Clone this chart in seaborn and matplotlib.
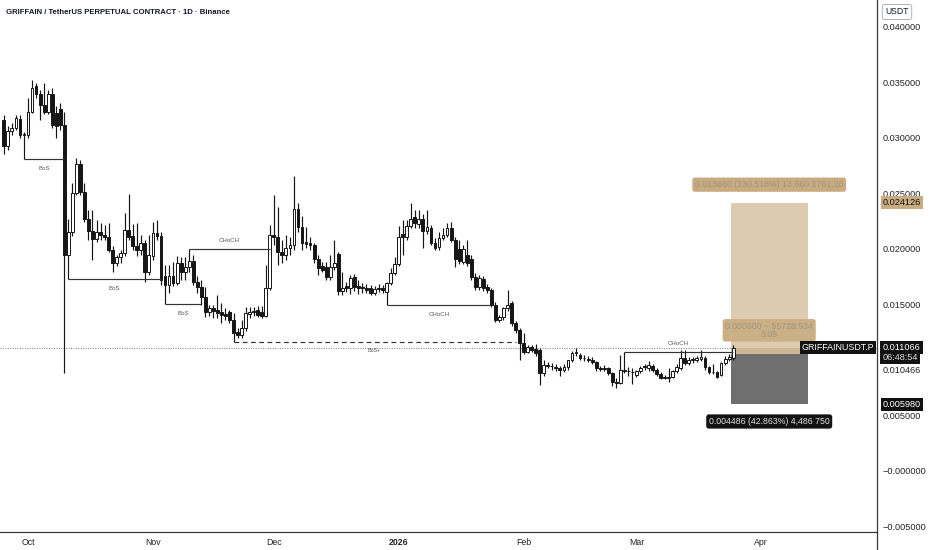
import numpy as np
import pandas as pd
import seaborn as sns
import matplotlib.pyplot as plt
from matplotlib.lines import Line2D
from matplotlib.patches import Rectangle
from matplotlib.transforms import blended_transform_factory

# GRIFFAINUSDT.P daily candles, values in thousandths of USDT
start_date = "2025-09-25"
opens = [31.6, 29.2, 30.6, 30.9, 31.7, 30.2, 30.2, 32.3, 34.6, 33.9,
         32.9, 32.3, 33.9, 32.2, 32.6, 31.1, 19.4, 21.5, 25.0, 27.6,
         25.1, 22.7, 21.6, 20.9, 21.5, 21.2, 21.0, 19.9, 18.7, 19.2,
         19.6, 21.7, 21.1, 20.2, 19.9, 20.5, 17.9, 19.3, 21.4, 21.1,
         17.5, 16.7, 17.5, 16.9, 18.7, 17.9, 18.3, 18.9, 17.0, 16.5,
         15.6, 14.3, 14.6, 14.5, 14.3, 14.1, 14.3, 13.6, 12.5, 12.2,
         12.8, 14.1, 14.3, 14.5, 14.3, 13.9, 16.4, 21.2, 21.0, 19.7,
         19.4, 20.05, 20.3, 23.6, 21.9, 20.6, 20.5, 20.3, 19.05, 18.4,
         18.3, 17.4, 18.3, 19.5, 16.2, 16.6, 16.4, 17.4, 16.6, 16.5,
         16.4, 16.4, 16.0, 16.35, 16.45, 16.1, 16.9, 17.8, 18.6, 21.3,
         21.0, 22.0, 22.8, 22.2, 22.7, 21.6, 21.85, 20.5, 20.1, 20.95,
         21.2, 21.85, 20.8, 19.95, 18.8, 19.4, 19.1, 17.4, 16.5, 17.25,
         16.5, 16.3, 14.9, 13.6, 13.8, 14.6, 15.1, 13.3, 12.7, 11.5,
         10.7, 11.1, 10.95, 10.9, 8.8, 9.5, 9.4, 9.35, 9.2, 9.05,
         9.3, 9.95, 10.55, 10.4, 10.15, 10.05, 10.0, 9.75, 9.2, 9.15,
         9.2, 8.8, 8.0, 7.9, 9.0, 9.0, 8.9, 8.6, 8.95, 9.3,
         9.2, 9.4, 9.05, 8.7, 8.4, 8.35, 8.45, 8.95, 9.2, 10.15,
         9.7, 9.95, 9.95, 10.05, 10.15, 9.3, 8.9, 8.9, 8.6, 9.65,
         10.05, 10.1]
highs = [32.0, 31.0, 31.3, 32.0, 32.0, 30.5, 33.6, 35.2, 34.9, 34.3,
         34.9, 34.3, 34.5, 32.8, 33.1, 32.3, 22.7, 25.9, 28.2, 28.0,
         25.9, 23.5, 23.5, 22.6, 22.3, 22.1, 22.3, 20.2, 19.4, 19.9,
         23.2, 24.9, 22.2, 22.3, 21.2, 20.8, 21.2, 22.4, 22.6, 21.5,
         18.5, 18.5, 18.8, 19.3, 19.2, 19.2, 19.96, 19.4, 17.5, 17.2,
         16.5, 14.9, 14.9, 15.8, 15.1, 14.6, 14.5, 14.2, 12.8, 13.6,
         14.7, 14.7, 14.7, 14.8, 14.8, 18.5, 22.1, 24.8, 23.7, 20.8,
         21.2, 21.0, 26.5, 24.1, 22.9, 21.9, 21.0, 20.5, 19.4, 18.8,
         18.8, 19.4, 20.8, 19.7, 17.9, 17.0, 17.6, 17.7, 17.2, 16.9,
         16.8, 16.7, 16.6, 16.8, 16.7, 17.0, 18.2, 19.2, 22.0, 22.6,
         22.6, 24.1, 23.5, 23.5, 23.1, 23.5, 22.1, 20.95, 21.5, 21.85,
         22.3, 22.4, 21.0, 20.8, 20.3, 20.8, 19.4, 17.8, 17.6, 17.5,
         16.8, 16.4, 15.2, 14.0, 14.7, 16.3, 15.3, 13.5, 12.8, 12.4,
         11.3, 11.3, 11.4, 11.0, 9.95, 9.8, 9.7, 9.6, 9.4, 9.6,
         9.9, 10.8, 11.0, 10.6, 10.4, 10.3, 10.2, 9.9, 9.4, 9.5,
         9.3, 8.9, 8.3, 10.4, 10.68, 9.3, 9.2, 9.1, 9.4, 9.6,
         9.9, 9.6, 9.2, 8.9, 8.6, 9.2, 9.1, 9.6, 10.9, 10.9,
         10.2, 10.2, 10.3, 10.86, 10.3, 9.4, 9.6, 9.0, 9.8, 10.3,
         10.5, 11.3]
lows = [28.5, 28.9, 30.2, 30.7, 30.0, 28.06, 30.0, 32.2, 33.6, 31.6,
        32.1, 32.1, 30.9, 30.0, 30.7, 8.8, 17.25, 21.1, 24.8, 24.8,
        22.4, 20.8, 19.0, 20.6, 20.8, 20.8, 19.7, 17.9, 18.4, 18.7,
        19.3, 20.8, 19.9, 19.3, 19.4, 17.0, 17.6, 19.0, 20.8, 16.7,
        15.0, 16.0, 16.6, 16.7, 17.2, 17.2, 17.9, 16.7, 16.0, 14.9,
        13.8, 13.9, 13.7, 13.7, 13.3, 13.6, 13.3, 11.6, 11.9, 11.9,
        12.6, 13.7, 13.9, 13.8, 13.7, 13.8, 16.3, 20.3, 18.5, 18.7,
        18.96, 19.4, 19.9, 21.5, 19.9, 20.05, 19.9, 18.7, 17.6, 17.9,
        17.2, 17.2, 18.1, 15.8, 15.8, 16.1, 15.9, 16.2, 15.9, 16.0,
        16.0, 15.8, 15.8, 16.1, 16.0, 14.9, 16.7, 17.6, 18.4, 19.4,
        20.8, 21.85, 21.85, 21.85, 20.05, 21.3, 20.3, 19.9, 19.9, 20.8,
        21.0, 20.6, 18.3, 18.6, 18.6, 18.4, 17.2, 16.3, 16.3, 16.2,
        16.0, 14.7, 13.4, 13.4, 13.6, 14.4, 13.0, 12.4, 9.95, 10.5,
        10.6, 10.7, 10.3, 7.7, 8.5, 9.2, 9.1, 9.0, 8.5, 8.9,
        9.1, 9.8, 10.3, 10.0, 9.9, 9.8, 9.6, 9.0, 9.0, 9.0,
        8.6, 7.6, 7.4, 7.8, 8.8, 8.5, 7.8, 8.4, 8.8, 9.1,
        9.0, 8.9, 8.5, 8.2, 8.2, 7.97, 8.3, 8.8, 9.1, 9.5,
        9.5, 9.7, 9.8, 9.9, 9.1, 8.7, 8.7, 8.3, 8.5, 9.5,
        9.9, 10.0]
closes = [29.2, 30.6, 30.9, 31.8, 30.2, 30.3, 32.3, 34.5, 33.9, 32.9,
          32.3, 33.9, 31.1, 31.0, 31.1, 19.4, 21.5, 25.0, 27.6, 25.1,
          22.7, 21.6, 20.9, 21.5, 21.2, 21.0, 19.9, 18.7, 19.2, 19.6,
          21.7, 21.0, 20.2, 19.9, 20.5, 17.9, 19.4, 21.4, 21.1, 17.2,
          16.7, 17.5, 16.9, 18.7, 17.9, 18.3, 18.9, 17.0, 16.5, 15.6,
          14.3, 14.6, 14.4, 14.2, 14.0, 13.9, 13.6, 12.4, 12.2, 12.8,
          14.2, 14.3, 14.4, 14.0, 13.9, 16.4, 21.2, 21.0, 19.7, 19.4,
          20.05, 20.3, 23.6, 21.9, 20.5, 20.4, 20.3, 19.05, 18.2, 18.1,
          17.4, 18.3, 18.7, 16.2, 16.4, 16.4, 17.3, 16.5, 16.4, 16.4,
          16.3, 16.0, 16.35, 16.45, 16.3, 16.9, 17.8, 18.6, 21.0, 21.0,
          22.0, 22.7, 22.3, 22.7, 21.6, 21.9, 20.5, 20.05, 20.95, 21.2,
          21.85, 20.8, 19.1, 18.9, 19.95, 18.7, 17.4, 16.5, 17.3, 16.4,
          16.3, 14.9, 13.6, 13.8, 14.6, 14.9, 13.3, 12.7, 11.5, 10.7,
          11.1, 10.9, 10.6, 8.8, 9.5, 9.4, 9.4, 9.25, 9.05, 9.3,
          9.95, 10.6, 10.65, 10.15, 10.1, 10.0, 9.75, 9.2, 9.15, 9.2,
          8.8, 8.0, 7.9, 9.05, 9.1, 8.95, 8.85, 8.95, 9.2, 9.4,
          9.5, 9.05, 8.7, 8.35, 8.35, 8.4, 8.95, 9.3, 10.15, 9.7,
          9.95, 9.97, 10.15, 10.25, 9.3, 8.9, 8.85, 8.45, 9.65, 10.05,
          10.25, 11.066]

# market structure marks: pivot candle -> breaking candle
struct_names = ["BoS", "BoS", "BoS", "CHoCH", "CHoCH", "CHoCH"]
struct_pivot = [5, 16, 40, 46, 95, 154]
struct_break = [15, 39, 49, 66, 121, 181]
struct_side = ["low", "low", "low", "high", "low", "high"]
dash_pivot, dash_end = 57, 127

# long position tool
entry_price = 0.010466
target_price = 0.024126
stop_price = 0.005980
tool_start, tool_end = 174.4, 193.5
profit_text = "0.013660 (130.518%) 13,660 1761.26"
open_text = "0.000600 ~ 55728.934\n3.05"
loss_text = "0.004486 (42.863%) 4,486 750"
countdown = "06:48:54"

month_starts = ["2025-10-01", "2025-11-01", "2025-12-01", "2026-01-01",
                "2026-02-01", "2026-03-01", "2026-04-01"]
month_labels = ["Oct", "Nov", "Dec", "2026", "Feb", "Mar", "Apr"]
price_ticks = [-0.005, 0.0, 0.005, 0.015, 0.020, 0.025, 0.030, 0.035, 0.040]

sns.set_theme(style="white")
plt.rcParams["font.family"] = ["Liberation Sans", "DejaVu Sans"]

df = pd.DataFrame({"open": opens, "high": highs, "low": lows, "close": closes}) * 1e-3
ref = pd.Timestamp("2025-10-01")
df["day"] = (pd.date_range(start_date, periods=len(df), freq="D") - ref).days
up = df["close"] >= df["open"]

fig = plt.figure(figsize=(9.32, 5.5), dpi=100)
ax = fig.add_axes([0, 18 / 550, 877 / 932, 532 / 550])
ax.set_xlim(-6.95, 210.7)
ax.set_ylim(-0.00554, 0.04239)

ink = "#161616"
# wicks then bodies
ax.vlines(df["day"], df["low"], df["high"], color=ink, lw=0.85, zorder=2)
body = (df["close"] - df["open"]).abs().clip(lower=0.00006)
bottom = df[["open", "close"]].min(axis=1)
ax.bar(df["day"][up], body[up], bottom=bottom[up], width=0.7,
       color="white", edgecolor=ink, lw=0.7, zorder=3)
ax.bar(df["day"][~up], body[~up], bottom=bottom[~up], width=0.7,
       color=ink, edgecolor=ink, lw=0.7, zorder=3)

# structure lines
for name, p, b, side in zip(struct_names, struct_pivot, struct_break, struct_side):
    level = df[side].iloc[p]
    x0, x1 = df["day"].iloc[p], df["day"].iloc[b]
    ax.hlines(level, x0, x1, color="#333333", lw=0.85, zorder=4)
    dy = 6 if side == "high" else -6.5
    ax.annotate(name, ((x0 + x1) / 2, level), xytext=(0, dy), textcoords="offset points",
                ha="center", va="center", fontsize=4.4, color="#555555")
lvl = df["low"].iloc[dash_pivot]
x0, x1 = df["day"].iloc[dash_pivot], df["day"].iloc[dash_end]
ax.hlines(lvl, x0, x1, color="#333333", lw=0.85, linestyles=(0, (4, 3)), zorder=4)
ax.annotate("BoS+", ((x0 + x1) / 2, lvl), xytext=(0, -6), textcoords="offset points",
            ha="center", va="center", fontsize=3.9, color="#555555")

last = df["close"].iloc[-1]
ax.axhline(last, color="#777777", lw=0.7, ls=(0, (1, 1.5)), zorder=1)

# position tool
w = tool_end - tool_start
ax.add_patch(Rectangle((tool_start, entry_price), w, target_price - entry_price,
                       color="#dccbb1", lw=0, zorder=1.5))
ax.add_patch(Rectangle((tool_start, entry_price), w, last - entry_price,
                       color="#cfb793", lw=0, zorder=1.6))
ax.add_patch(Rectangle((tool_start, stop_price), w, entry_price - stop_price,
                       color="#6f6f6f", lw=0, zorder=1.5))
mid = (tool_start + tool_end) / 2
ax.annotate(profit_text, (mid, target_price), xytext=(0, 13), textcoords="offset points",
            ha="center", va="center", fontsize=6.3, color="#9f9484", zorder=6,
            bbox=dict(boxstyle="round,pad=0.3,rounding_size=0.3", fc="#c9ab80", ec="none"))
ax.annotate(open_text, (mid, last), xytext=(0, 12.5), textcoords="offset points",
            ha="center", va="center", fontsize=6.3, color="#9f9484", zorder=6,
            linespacing=0.9,
            bbox=dict(boxstyle="round,pad=0.3,rounding_size=0.3", fc="#cbb086", ec="none"))
ax.annotate(loss_text, (mid, stop_price), xytext=(0, -12.5), textcoords="offset points",
            ha="center", va="center", fontsize=6.3, color="#dddddd", zorder=6,
            bbox=dict(boxstyle="round,pad=0.3,rounding_size=0.3", fc="#131313", ec="none"))

# axes styling
for s in ["top", "left"]:
    ax.spines[s].set_visible(False)
for s in ["right", "bottom"]:
    ax.spines[s].set_color("#3a3a3a")
    ax.spines[s].set_linewidth(0.9)

ax.yaxis.tick_right()
ax.set_yticks(price_ticks)
ax.set_yticklabels([f"{v:.6f}" if v > 0 else "\u2212" + f"{abs(v):.6f}" for v in price_ticks])
ax.tick_params(axis="y", length=0, pad=4, labelsize=6.6, colors="#222222")

tick_days = (pd.to_datetime(month_starts) - ref).days
ax.set_xticks(tick_days)
ax.set_xticklabels(month_labels)
ax.tick_params(axis="x", length=0, pad=4, labelsize=6.3, colors="#222222")
for t in ax.get_xticklabels():
    if t.get_text() == "2026":
        t.set_fontweight("bold")

# right-axis price tags
tr = blended_transform_factory(ax.transAxes, ax.transData)
xr = 1.0065
ax.text(xr, target_price, f"{target_price:.6f}", transform=tr, ha="left", va="center",
        fontsize=6.6, color="#111111", clip_on=False,
        bbox=dict(boxstyle="square,pad=0.22", fc="#c9ab80", ec="none"))
ax.text(xr, last, f"{last:.6f}", transform=tr, ha="left", va="center",
        fontsize=6.6, color="white", clip_on=False, zorder=7,
        bbox=dict(boxstyle="square,pad=0.25", fc="#111111", ec="none"))
ax.annotate(countdown, (xr, last), xycoords=tr, xytext=(0, -7), textcoords="offset points",
            ha="left", va="center", fontsize=6.6, color="#dddddd", annotation_clip=False, zorder=7,
            bbox=dict(boxstyle="square,pad=0.25", fc="#111111", ec="none"))
ax.annotate(f"{entry_price:.6f}", (xr, entry_price), xycoords=tr, xytext=(0, -11.5),
            textcoords="offset points", ha="left", va="center", fontsize=6.6,
            color="#222222", annotation_clip=False)
ax.text(xr, stop_price, f"{stop_price:.6f}", transform=tr, ha="left", va="center",
        fontsize=6.6, color="white", clip_on=False,
        bbox=dict(boxstyle="square,pad=0.22", fc="#111111", ec="none"))
ax.text(0.9965, last, "GRIFFAINUSDT.P", transform=tr, ha="right", va="center",
        fontsize=6.4, color="white", clip_on=False, zorder=7,
        bbox=dict(boxstyle="square,pad=0.2", fc="#111111", ec="none"))

fig.text(6 / 932, 1 - 12 / 550, "GRIFFAIN / TetherUS PERPETUAL CONTRACT \u00b7 1D \u00b7 Binance",
         fontsize=5.6, fontweight="bold", color="#131722", va="center", ha="left")
fig.text(897 / 932, 1 - 12 / 550, "USDT", fontsize=6.2, color="#131722", va="center", ha="center",
         bbox=dict(boxstyle="round,pad=0.35,rounding_size=0.25", fc="white", ec="#b0b3bb", lw=0.7))
fig.add_artist(Line2D([877 / 932, 877 / 932], [0, 18 / 550], color="#3a3a3a", lw=0.9))

fig.savefig("out.png", dpi=100)
